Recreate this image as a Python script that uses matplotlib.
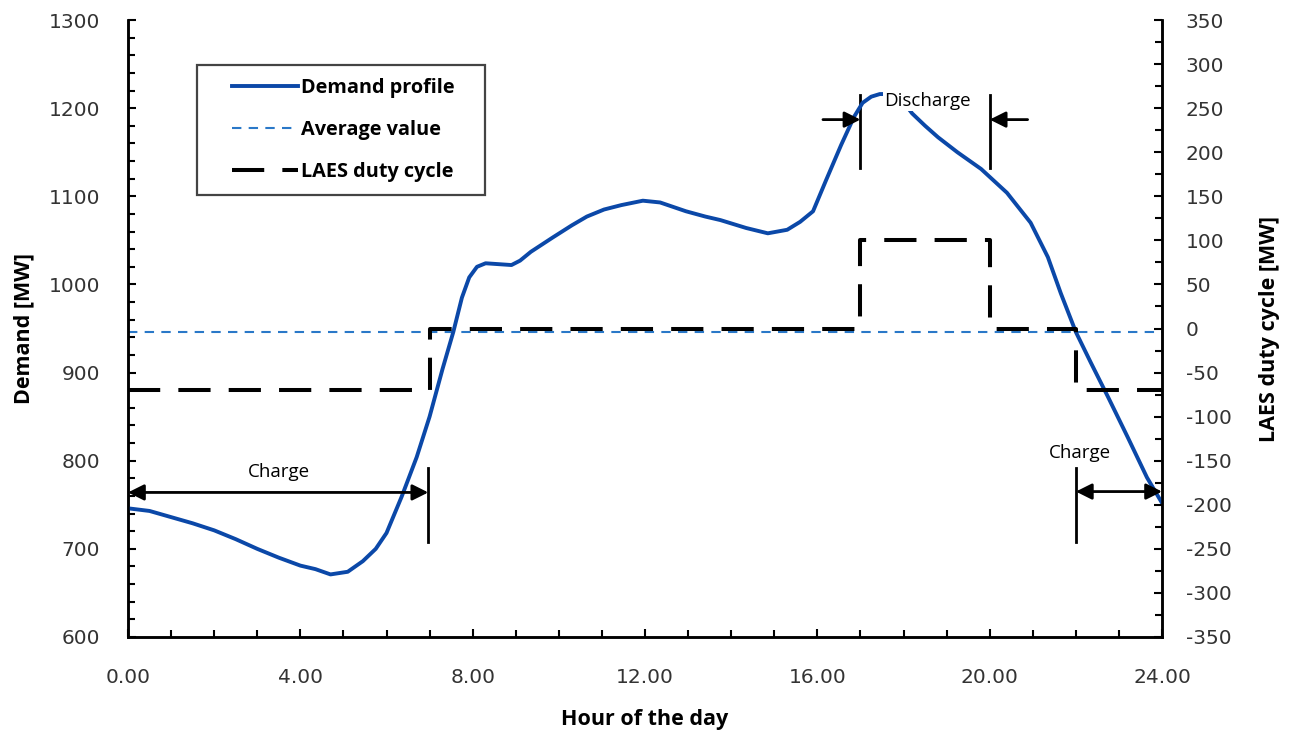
import matplotlib.pyplot as plt
from matplotlib.patches import Rectangle
from matplotlib.ticker import MultipleLocator

plt.rcParams['font.family'] = ['Open Sans', 'DejaVu Sans']
plt.rcParams['axes.unicode_minus'] = False

# 需求曲线
hours = [0, 0.5, 1, 1.5, 2, 2.5, 3, 3.5, 4, 4.35, 4.7, 5.1, 5.45, 5.75, 6.0, 6.35, 6.7,
         7.0, 7.3, 7.55, 7.75, 7.92, 8.1, 8.3, 8.6, 8.9, 9.1, 9.35, 9.85, 10.3, 10.65,
         11.05, 11.45, 11.95, 12.35, 12.95, 13.4, 13.75, 14.35, 14.85, 15.3, 15.6, 15.9,
         16.2, 16.55, 16.85, 17.05, 17.25, 17.45, 17.7, 17.95, 18.2, 18.5, 18.8, 19.25,
         19.8, 20.4, 20.95, 21.35, 21.65, 22.0, 22.35, 22.75, 23.2, 23.65, 24.0]
demand = [746, 743, 736, 729, 721, 711, 700, 690, 681, 677, 671, 674, 686, 700, 718, 759, 804,
          850, 904, 946, 985, 1008, 1020, 1024, 1023, 1022, 1027, 1037, 1053, 1067, 1077,
          1085, 1090, 1095, 1093, 1083, 1077, 1073, 1064, 1058, 1062, 1071, 1083,
          1118, 1158, 1190, 1206, 1213, 1216, 1216, 1210, 1194, 1180, 1167, 1150,
          1131, 1104, 1070, 1031, 990, 946, 911, 872, 827, 781, 752]
average_value = 946

# LAES 运行周期
duty_hours = [0, 7, 17, 20, 22, 24]
duty_mw = [-70, 0, 100, 0, -70, -70]

fig = plt.figure(figsize=(12.89, 7.30), dpi=100)
ax = fig.add_axes([0.0993, 0.1274, 0.8022, 0.8452])
ax2 = ax.twinx()

blue = '#0b48a8'
ax.plot(hours, demand, color=blue, lw=2.8, label='Demand profile', zorder=3)
ax.axhline(average_value, color='#2a78c8', lw=1.5, ls=(0, (4.5, 3.5)), label='Average value')
ax2.step(duty_hours, duty_mw, where='post', color='black', lw=2.9, ls=(0, (8, 4.5)))
ax.plot([], [], color='black', lw=2.9, ls=(0, (8, 4.5)), label='LAES duty cycle')

ax.set_xlim(0, 24)
ax.set_ylim(600, 1300)
ax2.set_ylim(-350, 350)

ax.xaxis.set_major_locator(MultipleLocator(4))
ax.xaxis.set_minor_locator(MultipleLocator(1))
ax.yaxis.set_major_locator(MultipleLocator(100))
ax.yaxis.set_minor_locator(MultipleLocator(20))
ax2.yaxis.set_major_locator(MultipleLocator(50))
ax2.yaxis.set_minor_locator(MultipleLocator(25))
ax.xaxis.set_major_formatter(lambda v, p: f'{v:.2f}')

for a in (ax, ax2):
    a.tick_params(which='both', direction='in', width=1.5, colors='black', labelcolor='#333333')
    a.tick_params(which='major', length=6)
    a.tick_params(which='minor', length=5)
    a.spines['top'].set_visible(False)
    for s in a.spines.values():
        s.set_linewidth(1.8)
    for lab in a.get_xticklabels() + a.get_yticklabels():
        lab.set_fontfamily('DejaVu Sans')
        lab.set_fontsize(14.5)
ax.tick_params(axis='x', which='major', pad=22)
ax.tick_params(axis='y', which='major', pad=20)
ax2.tick_params(axis='y', which='major', pad=17)

lab_font = dict(fontsize=15.5, fontweight='bold')
ax.set_xlabel('Hour of the day', labelpad=16, **lab_font)
ax.set_ylabel('Demand [MW]', labelpad=10, **lab_font)
ax2.set_ylabel('LAES duty cycle [MW]', labelpad=20, **lab_font)

# 充电/放电标注
arrow = dict(arrowstyle='<|-|>', color='black', lw=2, mutation_scale=24, shrinkA=0, shrinkB=0)
one = dict(arrowstyle='-|>', color='black', lw=2, mutation_scale=24, shrinkA=0, shrinkB=0)
ax.annotate('', xy=(0, 764), xytext=(6.97, 764), arrowprops=arrow)
ax.plot([6.97, 6.97], [708, 792], color='black', lw=2)
ax.text(3.5, 787, 'Charge', ha='center', va='center', fontsize=13.5)

ax.annotate('', xy=(22, 765), xytext=(24, 765), arrowprops=arrow)
ax.plot([22, 22], [708, 792], color='black', lw=2)
ax.text(22.1, 809, 'Charge', ha='center', va='center', fontsize=13.5)

ax.plot([17, 17], [1132, 1215], color='black', lw=2)
ax.plot([20, 20], [1132, 1215], color='black', lw=2)
ax.annotate('', xy=(17, 1187), xytext=(16.13, 1187), arrowprops=one)
ax.annotate('', xy=(20, 1187), xytext=(20.88, 1187), arrowprops=one)
ax.text(18.55, 1208, 'Discharge', ha='center', va='center', fontsize=13.5,
        bbox=dict(facecolor='white', edgecolor='none', pad=0.5), zorder=4)

leg = ax.legend(loc='upper left', bbox_to_anchor=(0.1006, 0.906), frameon=False,
                borderpad=0, borderaxespad=0, handlelength=3.3, handletextpad=0.15,
                labelspacing=1.1, prop={'weight': 'bold', 'size': 14.3})
ax.add_patch(Rectangle((0.0667, 0.716), 0.2783, 0.211, transform=ax.transAxes,
                       fill=False, ec='#444444', lw=1.6, zorder=5))

plt.savefig('out.png', dpi=100)
plt.close()
